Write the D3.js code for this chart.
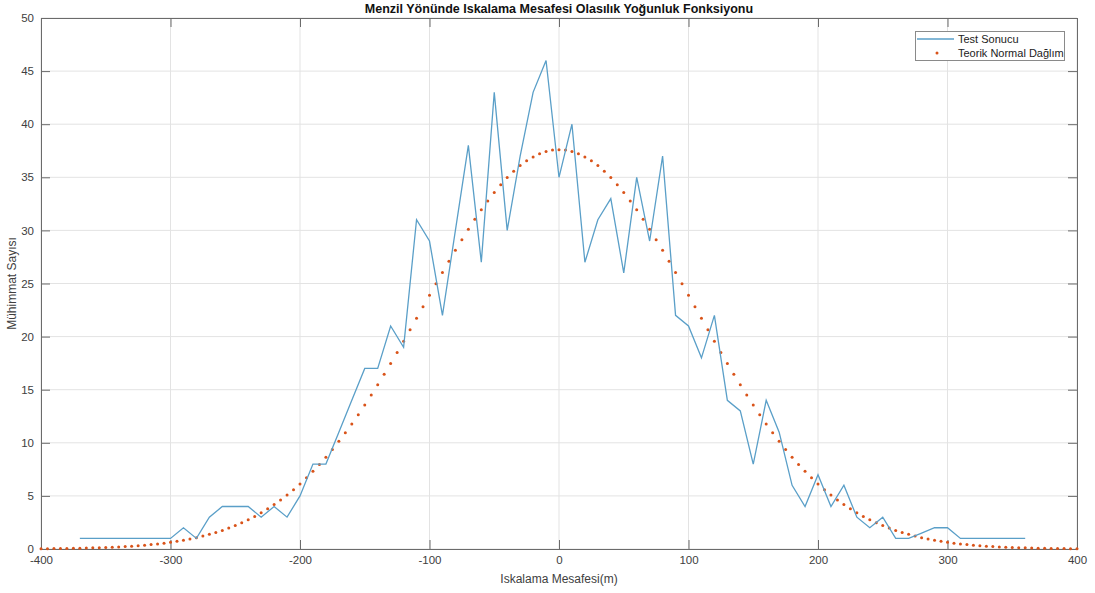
<!DOCTYPE html>
<html>
<head>
<meta charset="utf-8">
<script src="https://cdn.jsdelivr.net/npm/d3@7"></script>
<style>
  html, body { margin: 0; padding: 0; background: #fff; }
  svg { display: block; font-family: "Liberation Sans", Arial, sans-serif; }
</style>
</head>
<body>
<svg id="chart" width="1095" height="593"></svg>
<script>
// ---------- data ----------
const testX = [-370,-360,-350,-340,-330,-320,-310,-300,-290,-280,-270,-260,-250,-240,-230,-220,-210,-200,-190,-180,-170,-160,-150,-140,-130,-120,-110,-100,-90,-80,-70,-60,-50,-40,-30,-20,-10,0,10,20,30,40,50,60,70,80,90,100,110,120,130,140,150,160,170,180,190,200,210,220,230,240,250,260,270,280,290,300,310,320,330,340,350,360];
const testY = [1,1,1,1,1,1,1,1,2,1,3,4,4,4,3,4,3,5,8,8,11,14,17,17,21,19,31,29,22,30,38,27,43,30,37,43,46,35,40,27,31,33,26,35,29,37,22,21,18,22,14,13,8,14,11,6,4,7,4,6,3,2,3,1,1,1.5,2,2,1,1,1,1,1,1];

// theoretical normal curve, sampled every 5 m from -400 to 400
const theoryX = d3.range(-400, 401, 5);
const theoryY = [
  0.03,0.03,0.04,0.05,0.05,0.06,0.08,0.09,0.11,0.12,0.15,0.17,0.20,0.23,0.27,0.31,0.36,0.42,0.48,0.55,
  0.63,0.73,0.83,0.94,1.07,1.22,1.38,1.56,1.75,1.97,2.21,2.47,2.76,3.07,3.41,3.79,4.19,4.62,5.09,5.59,
  6.13,6.70,7.31,7.96,8.65,9.38,10.14,10.94,11.78,12.65,13.55,14.49,15.46,16.45,17.47,18.51,19.57,20.64,21.72,22.81,
  23.89,24.97,26.04,27.09,28.13,29.13,30.11,31.04,31.94,32.78,33.57,34.30,34.97,35.57,36.10,36.55,36.92,37.22,37.43,37.56,
  37.60,
  37.56,37.43,37.22,36.92,36.55,36.10,35.57,34.97,34.30,33.57,32.78,31.94,31.04,30.11,29.13,28.13,27.09,26.04,24.97,23.89,
  22.81,21.72,20.64,19.57,18.51,17.47,16.45,15.46,14.49,13.55,12.65,11.78,10.94,10.14,9.38,8.65,7.96,7.31,6.70,6.13,
  5.59,5.09,4.62,4.19,3.79,3.41,3.07,2.76,2.47,2.21,1.97,1.75,1.56,1.38,1.22,1.07,0.94,0.83,0.73,0.63,
  0.55,0.48,0.42,0.36,0.31,0.27,0.23,0.20,0.17,0.15,0.12,0.11,0.09,0.08,0.06,0.05,0.05,0.04,0.03,0.03
];

const xTicks = [-400,-300,-200,-100,0,100,200,300,400];
const yTicks = [0,5,10,15,20,25,30,35,40,45,50];

const titleText = "Menzil Yönünde Iskalama Mesafesi Olasılık Yoğunluk Fonksiyonu";
const xLabel = "Iskalama Mesafesi(m)";
const yLabel = "Mühimmat Sayısı";
const seriesNames = ["Test Sonucu", "Teorik Normal Dağlım"];

// ---------- layout ----------
const L = 41, R = 1077, T = 18, B = 549;
const svg = d3.select("#chart");
const x = d3.scaleLinear().domain([-400, 400]).range([L, R]);
const y = d3.scaleLinear().domain([0, 50]).range([B, T]);

const lineColor = "#5a9fc8";
const dotColor = "#d95319";
const axisColor = "#6b6b6b";
const textColor = "#404040";

// grid
const grid = svg.append("g");
grid.selectAll("line.vx").data(xTicks).join("line")
  .attr("x1", d => x(d)).attr("x2", d => x(d))
  .attr("y1", T).attr("y2", B)
  .attr("stroke", "#e3e3e3").attr("stroke-width", 1);
grid.selectAll("line.hy").data(yTicks).join("line")
  .attr("x1", L).attr("x2", R)
  .attr("y1", d => y(d)).attr("y2", d => y(d))
  .attr("stroke", "#e3e3e3").attr("stroke-width", 1);

// axes (ticks pointing inward)
const tickLen = 9;
const fmt = d => String(d);
const xAxisB = d3.axisBottom(x).tickValues(xTicks).tickFormat(fmt).tickSizeInner(-tickLen).tickSizeOuter(0).tickPadding(7);
const xAxisT = d3.axisTop(x).tickValues(xTicks).tickSizeInner(-tickLen).tickSizeOuter(0).tickFormat("");
const yAxisL = d3.axisLeft(y).tickValues(yTicks).tickFormat(fmt).tickSizeInner(-tickLen).tickSizeOuter(0).tickPadding(7);
const yAxisR = d3.axisRight(y).tickValues(yTicks).tickSizeInner(-tickLen).tickSizeOuter(0).tickFormat("");

function styleAxis(g) {
  g.selectAll("path").attr("stroke", axisColor).attr("stroke-width", 1);
  g.selectAll("line").attr("stroke", axisColor).attr("stroke-width", 1);
  g.selectAll("text").attr("fill", textColor).style("font-size", "11.5px")
    .style("font-family", "'Liberation Sans', Arial, sans-serif");
}
svg.append("g").attr("transform", `translate(0,${B})`).call(xAxisB).call(styleAxis);
svg.append("g").attr("transform", `translate(0,${T})`).call(xAxisT).call(styleAxis);
svg.append("g").attr("transform", `translate(${L},0)`).call(yAxisL).call(styleAxis);
svg.append("g").attr("transform", `translate(${R},0)`).call(yAxisR).call(styleAxis);

// theoretical dots
svg.append("g").selectAll("circle").data(theoryX.map((d, i) => [d, theoryY[i]])).join("circle")
  .attr("cx", d => x(d[0])).attr("cy", d => y(d[1]))
  .attr("r", 1.5).attr("fill", dotColor);

// test line
const line = d3.line().x(d => x(d[0])).y(d => y(d[1]));
svg.append("path")
  .datum(testX.map((d, i) => [d, testY[i]]))
  .attr("d", line)
  .attr("fill", "none").attr("stroke", lineColor).attr("stroke-width", 1.3)
  .attr("stroke-linejoin", "miter");

// title
svg.append("text").attr("x", (L + R) / 2).attr("y", 13)
  .attr("text-anchor", "middle").attr("fill", "#111")
  .style("font-size", "12.5px").style("font-weight", "bold")
  .text(titleText);

// axis labels
svg.append("text").attr("x", (L + R) / 2).attr("y", 583)
  .attr("text-anchor", "middle").attr("fill", textColor)
  .style("font-size", "12px").text(xLabel);
svg.append("text").attr("transform", `translate(16,${(T + B) / 2}) rotate(-90)`)
  .attr("text-anchor", "middle").attr("fill", textColor)
  .style("font-size", "12px").text(yLabel);

// legend
const lg = svg.append("g");
lg.append("rect").attr("x", 915.5).attr("y", 31.5).attr("width", 149).attr("height", 29)
  .attr("fill", "#fff").attr("stroke", "#8a8a8a").attr("stroke-width", 1);
lg.append("line").attr("x1", 917).attr("x2", 954).attr("y1", 39).attr("y2", 39)
  .attr("stroke", lineColor).attr("stroke-width", 1.3);
lg.append("circle").attr("cx", 937).attr("cy", 53).attr("r", 1.5).attr("fill", dotColor);
lg.selectAll("text").data(seriesNames).join("text")
  .attr("x", 958).attr("y", (d, i) => 43 + i * 14)
  .attr("fill", "#222").style("font-size", "11px").text(d => d);
</script>
</body>
</html>
